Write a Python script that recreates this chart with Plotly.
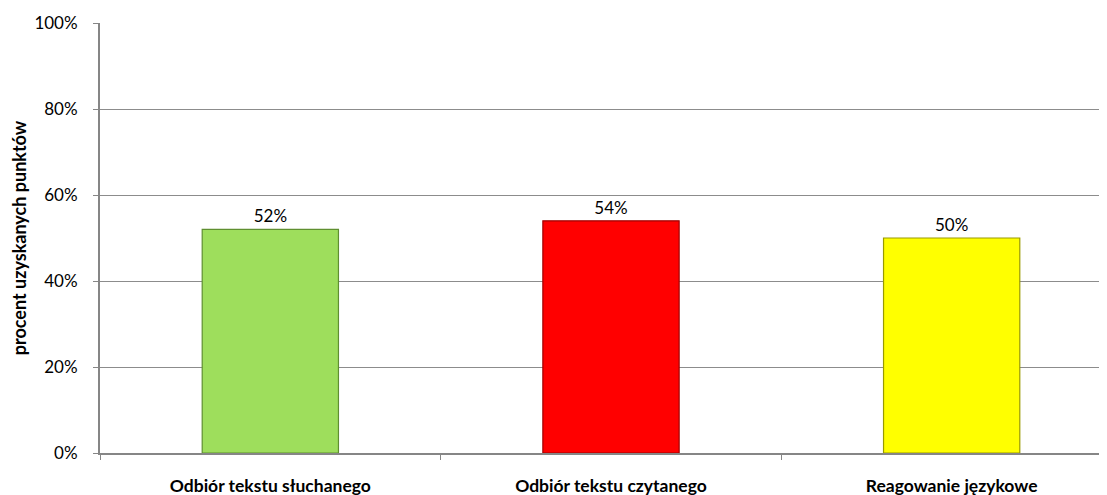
import plotly.graph_objects as go

categories = ["Odbiór tekstu słuchanego", "Odbiór tekstu czytanego", "Reagowanie językowe"]
values = [0.52, 0.54, 0.50]
labels = ["52%", "54%", "50%"]
colors = ["#9ede5c", "#ff0000", "#ffff00"]
edges = ["#5f8f30", "#a00000", "#9a9a00"]

FONT = "Lato"

fig = go.Figure()
fig.add_trace(go.Bar(
    x=categories, y=values,
    width=0.4,
    marker=dict(color=colors, line=dict(color=edges, width=1.2)),
    text=labels, textposition="outside",
    textfont=dict(family=FONT, size=17, color="#000000"),
    cliponaxis=False,
    showlegend=False,
))

# the page body adds an 8px offset, so margins are trimmed to match
fig.update_layout(
    width=1099, height=487,
    margin=dict(l=92, r=0, t=15, b=42),
    plot_bgcolor="white", paper_bgcolor="white",
    font=dict(family=FONT, color="#000000"),
)
fig.update_xaxes(
    range=[-0.5, 2.456],
    showline=True, linecolor="#868686", linewidth=2,
    ticks="outside", tickcolor="#868686", ticklen=5,
    tickson="boundaries",
    ticklabelstandoff=16,
    tickfont=dict(family=FONT, size=17.5, weight="bold"),
    showgrid=False,
)
fig.update_yaxes(
    range=[0, 1], dtick=0.2, tickformat=".0%",
    showline=True, linecolor="#868686", linewidth=2,
    ticks="outside", tickcolor="#868686", ticklen=5,
    ticklabelstandoff=12,
    tickfont=dict(family=FONT, size=17),
    showgrid=True, gridcolor="#8c8c8c", gridwidth=1,
    zeroline=False,
    title=dict(text="procent uzyskanych punktów", font=dict(family=FONT, size=18, weight="bold"), standoff=3),
)

fig.write_html("out.html")
